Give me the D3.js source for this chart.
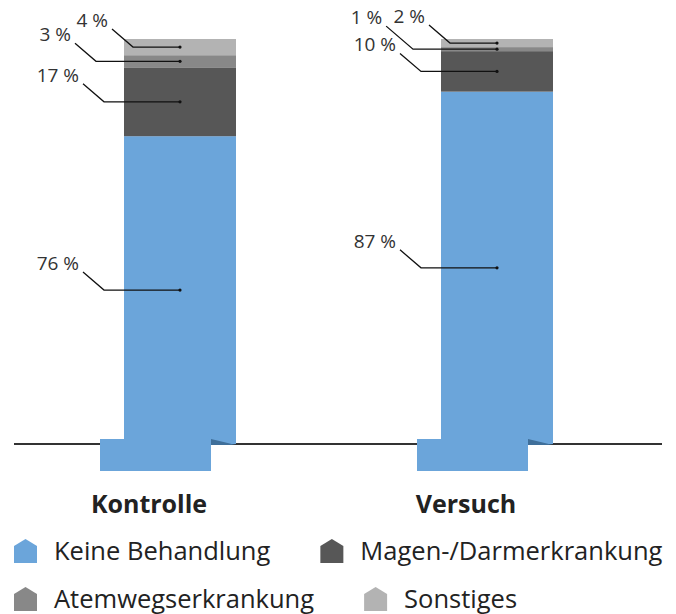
<!DOCTYPE html>
<html lang="de">
<head>
<meta charset="utf-8">
<title>Kontrolle vs. Versuch</title>
<script src="https://d3js.org/d3.v7.min.js"></script>
<style>
  body { margin: 0; background: #fff; }
  svg text { font-family: "Open Sans", "Noto Sans", sans-serif; fill: #222; }
</style>
</head>
<body>
<div id="chart"></div>
<script>
// data
var groups = ["Kontrolle", "Versuch"];
var series = ["Keine Behandlung", "Magen-/Darmerkrankung", "Atemwegserkrankung", "Sonstiges"];
var kontrolle = [76, 17, 3, 4];
var versuch = [87, 10, 1, 2];
var colors = ["#6ba5da", "#575757", "#888888", "#b3b3b3"];

var values = {"Kontrolle": kontrolle, "Versuch": versuch};

var width = 676, height = 614;
var baseY = 444, topY = 39, barW = 112;

var svg = d3.select("#chart").append("svg")
    .attr("width", width)
    .attr("height", height);

var x = d3.scalePoint().domain(groups).range([180, 497]);
var y = d3.scaleLinear().domain([0, 100]).range([baseY, topY]);

// build stacked rows
var rows = groups.map(function(g) {
    var r = {group: g};
    series.forEach(function(s, i) { r[s] = values[g][i]; });
    return r;
});
var stack = d3.stack().keys(series)(rows);

// baseline
svg.append("line")
    .attr("x1", 14).attr("x2", 662)
    .attr("y1", baseY).attr("y2", baseY)
    .attr("stroke", "#333").attr("stroke-width", 2);

// bars
var layer = svg.selectAll("g.layer")
    .data(stack).enter()
    .append("g")
    .attr("fill", function(d, i) { return colors[i]; });

layer.selectAll("rect")
    .data(function(d) { return d; })
    .enter().append("rect")
    .attr("x", function(d) { return x(d.data.group) - barW / 2; })
    .attr("y", function(d) { return y(d[1]); })
    .attr("width", barW)
    .attr("height", function(d) { return y(d[0]) - y(d[1]); });

// odd little base under each bar
groups.forEach(function(g) {
    var bx = x(g) - barW / 2;
    svg.append("rect")
        .attr("x", bx - 24).attr("y", y(0) - 5)
        .attr("width", 111).attr("height", 32)
        .attr("fill", colors[0]);
    svg.append("path")
        .attr("d", "M" + (bx + 87) + "," + (y(0) - 5) + "L" + (bx + 112) + "," + (y(0) + 1) + "L" + (bx + 87) + "," + (y(0) + 1) + "Z")
        .attr("fill", "#3f6f9a");
    svg.append("text")
        .attr("x", bx + 25).attr("y", 513)
        .attr("text-anchor", "middle")
        .style("font-weight", "bold")
        .style("font-size", "25px")
        .text(g);
});

// percentage labels with leader lines, pushed up when they would collide
groups.forEach(function(g, gi) {
    var placed = [];
    stack.forEach(function(s, i) {
        var d = s[gi];
        var cx = x(g);
        var ly = (y(d[0]) + y(d[1])) / 2;
        var h = y(d[0]) - y(d[1]);
        var off = 76;
        if (h < 30) off = (i == series.length - 1) ? 47 : 84;
        var ex = cx - off;
        var t = svg.append("text")
            .attr("text-anchor", "end")
            .style("font-size", "19px")
            .style("fill", "#333")
            .text(d.data[s.key] + " %");
        var tw = t.node().getComputedTextLength();
        var sy = ly - 18;
        var box;
        function mk() {
            var sx = ex - (ly - sy) * 21 / 18;
            return {x0: sx - 4 - tw, x1: sx - 4, y0: sy - 2 - 20, y1: sy - 2 + 6, sx: sx};
        }
        function hits(b) {
            return placed.some(function(p) {
                return b.x0 < p.x1 && b.x1 > p.x0 && b.y0 < p.y1 + 1 && b.y1 > p.y0 - 1;
            });
        }
        box = mk();
        while (hits(box)) { sy -= 1; box = mk(); }
        placed.push(box);
        t.attr("x", box.sx - 4).attr("y", sy - 2);
        svg.append("path")
            .attr("d", "M" + box.sx + "," + sy + "L" + ex + "," + ly + "L" + cx + "," + ly)
            .attr("fill", "none")
            .attr("stroke", "#111")
            .attr("stroke-width", 1.3);
        svg.append("circle")
            .attr("cx", cx).attr("cy", ly).attr("r", 1.6)
            .attr("fill", "#111");
    });
});

// legend (flow layout, two rows)
var legendRows = [[0, 1], [2, 3]];
legendRows.forEach(function(row, r) {
    var lx = 14;
    var cy = 551 + r * 48;
    row.forEach(function(i) {
        var g = svg.append("g").attr("transform", "translate(" + lx + "," + cy + ")");
        g.append("path")
            .attr("d", "M0,-5L11.5,-12L23,-5L23,12L0,12Z")
            .attr("fill", colors[i]);
        var t = g.append("text")
            .attr("x", 40).attr("y", 9)
            .style("font-size", "25.5px")
            .text(series[i]);
        lx += 40 + t.node().getComputedTextLength() + 50;
    });
});
</script>
</body>
</html>
